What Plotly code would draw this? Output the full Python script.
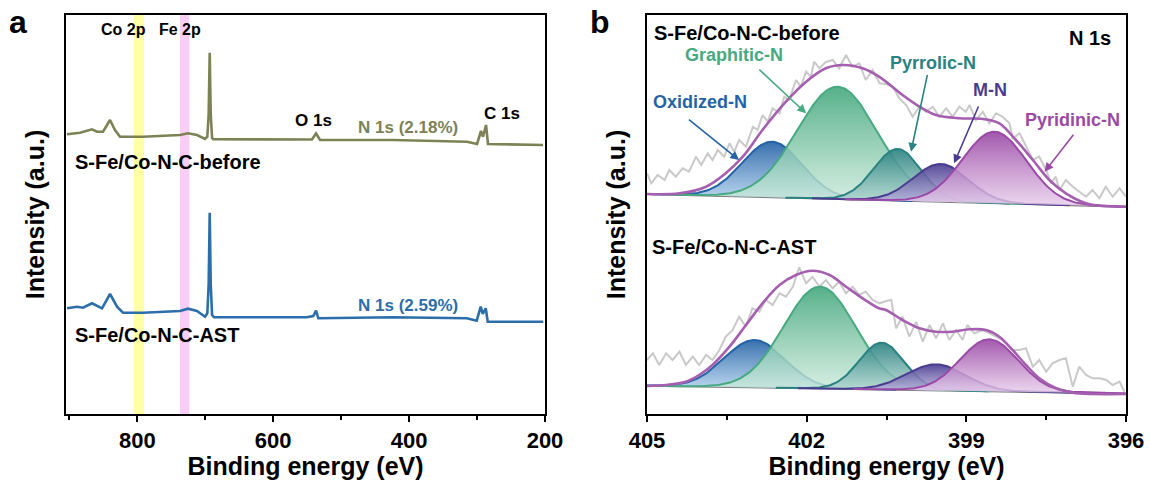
import numpy as np
import plotly.graph_objects as go

FONT = "Arial, Liberation Sans, sans-serif"

# ---------------- panel a : XPS survey spectra ----------------
survey_before_ev = [903.5, 884.4, 866.7, 859.4, 850.5, 840.2, 832.9, 825.5, 791.7, 737.2, 725.4, 712.2,
                    700.4, 697.0, 695.0, 693.5, 692.0, 690.0, 688.2, 545.9, 543.0, 537.0, 531.1, 423.7,
                    314.8, 300.0, 294.2, 291.2, 286.8, 283.9, 202.9]
survey_before_int = [279.7, 281.3, 284.7, 282.3, 282.3, 294.0, 284.0, 277.3, 277.3, 279.0, 280.7, 279.0,
                     275.0, 277.3, 300.0, 361.3, 300.0, 276.0, 274.7, 274.7, 274.5, 280.5, 274.0, 274.0,
                     272.3, 270.0, 283.0, 277.3, 289.0, 270.0, 269.0]

survey_ast_ev = [903.5, 888.8, 880.0, 866.7, 852.0, 840.2, 829.9, 821.1, 791.7, 737.2, 725.4, 712.2,
                 700.4, 697.0, 695.0, 693.5, 692.0, 690.0, 687.2, 550.7, 541.0, 537.0, 533.6, 423.3,
                 315.2, 300.5, 294.6, 291.6, 287.2, 284.3, 202.5]
survey_ast_int = [105.7, 107.3, 106.3, 110.7, 105.7, 120.0, 107.3, 101.3, 101.3, 103.0, 105.3, 103.0,
                  97.3, 100.7, 130.0, 201.3, 130.0, 99.0, 96.7, 96.7, 98.0, 103.3, 95.7, 96.7,
                  95.7, 93.3, 107.3, 100.0, 105.7, 92.3, 92.3]

co2p_band = [804.9, 790.2]
fe2p_band = [737.2, 723.5]
survey_range = [905, 200]

# ---------------- panel b : N 1s high-resolution ----------------
n1s_species = ["Oxidized-N", "Graphitic-N", "Pyrrolic-N", "M-N", "Pyridinic-N"]

before_center = [402.65, 401.42, 400.29, 399.48, 398.47]
before_height = [55.6, 112.4, 51.7, 37.8, 71.5]
before_fwhm = [1.32, 1.77, 1.06, 1.22, 1.41]
before_baseline = [220.0, 207.3]   # at 405 eV, at 396 eV

ast_center = [402.98, 401.75, 400.59, 399.57, 398.57]
ast_height = [47.5, 101.8, 46.8, 26.1, 52.0]
ast_fwhm = [1.34, 1.60, 1.00, 1.30, 1.28]
ast_baseline = [28.3, 20.5]

before_env_ev = [405.0, 404.39, 403.89, 403.52, 403.20, 402.83, 402.39, 402.01, 401.64, 401.32, 400.95,
                 400.64, 400.20, 399.88, 399.57, 399.13, 398.69, 398.38, 398.07, 397.75, 397.44, 397.13,
                 396.75, 396.44, 396.0]
before_env_int = [220.0, 220.7, 227.3, 240.7, 257.3, 284.0, 312.3, 332.3, 345.7, 349.0, 345.7,
                  337.3, 319.0, 307.3, 299.0, 295.7, 295.0, 290.7, 274.0, 254.0, 234.0, 220.7,
                  210.7, 208.0, 207.3]

ast_env_ev = [405.0, 404.64, 404.27, 404.02, 403.77, 403.45, 403.14, 402.83, 402.51, 402.20, 401.89,
              401.57, 401.26, 400.95, 400.64, 400.51, 400.20, 399.88, 399.57, 399.26, 398.94, 398.63,
              398.38, 398.13, 397.88, 397.63, 397.31, 397.0, 396.63, 396.0]
ast_env_int = [28.0, 29.0, 32.3, 39.0, 49.0, 67.3, 89.0, 110.7, 129.0, 139.0, 143.3,
               139.0, 127.3, 115.7, 105.7, 104.0, 94.0, 85.7, 82.3, 82.3, 84.7, 84.0,
               77.3, 64.0, 49.0, 35.7, 25.7, 21.3, 20.0, 20.0]

before_raw_ev = [405.0, 404.92, 404.80, 404.67, 404.58, 404.46, 404.33, 404.21, 404.08, 403.98, 403.86,
                 403.77, 403.67, 403.55, 403.45, 403.36, 403.27, 403.14, 403.01, 402.92, 402.83, 402.73,
                 402.64, 402.51, 402.42, 402.33, 402.20, 402.11, 402.01, 401.92, 401.86, 401.76, 401.64,
                 401.51, 401.39, 401.26, 401.14, 401.01, 400.89, 400.76, 400.63, 400.51, 400.38, 400.26,
                 400.13, 400.01, 399.88, 399.76, 399.63, 399.51, 399.38, 399.26, 399.13, 399.01, 398.94,
                 398.82, 398.69, 398.57, 398.44, 398.32, 398.19, 398.13, 398.00, 397.88, 397.75, 397.63,
                 397.50, 397.41, 397.32, 397.25, 397.13, 397.00, 396.88, 396.75, 396.63, 396.50, 396.38,
                 396.25, 396.12, 396.0]
before_raw_int = [240.7, 230.7, 239.0, 234.0, 244.0, 237.3, 245.7, 242.3, 257.3, 249.0, 260.7,
                  254.0, 264.0, 257.3, 270.7, 262.3, 274.0, 267.3, 287.3, 284.0, 299.0, 292.3,
                  305.7, 300.7, 317.3, 314.0, 334.0, 327.3, 342.3, 337.3, 352.3, 345.7, 352.0,
                  354.0, 345.7, 359.0, 347.3, 350.7, 334.0, 344.0, 330.7, 330.0, 327.3, 315.7,
                  309.0, 297.3, 307.3, 302.3, 307.3, 297.3, 305.7, 297.3, 307.3, 302.3, 309.0,
                  294.0, 302.3, 290.7, 300.7, 297.3, 290.7, 275.7, 280.7, 267.3, 254.0, 257.3,
                  244.0, 230.7, 237.3, 224.0, 234.0, 227.3, 222.3, 217.3, 224.0, 215.7, 227.3,
                  217.3, 225.7, 217.3]

ast_raw_ev = [405.0, 404.89, 404.77, 404.64, 404.52, 404.39, 404.27, 404.14, 404.02, 403.89, 403.77,
              403.64, 403.52, 403.39, 403.27, 403.14, 403.02, 402.89, 402.77, 402.64, 402.51, 402.39,
              402.26, 402.14, 402.01, 401.89, 401.76, 401.64, 401.51, 401.39, 401.26, 401.14, 401.01,
              400.89, 400.76, 400.63, 400.51, 400.41, 400.32, 400.20, 400.07, 399.94, 399.82, 399.69,
              399.57, 399.44, 399.32, 399.19, 399.07, 398.98, 398.85, 398.69, 398.50, 398.32, 398.13,
              398.00, 397.88, 397.75, 397.63, 397.50, 397.38, 397.25, 397.13, 397.00, 396.88, 396.75,
              396.63, 396.50, 396.37, 396.25, 396.12, 396.03]
ast_raw_int = [54.0, 60.7, 49.0, 60.7, 54.0, 62.3, 49.0, 57.3, 49.0, 59.0, 54.0,
               64.0, 77.3, 84.0, 97.3, 87.3, 105.7, 102.3, 114.0, 109.0, 120.7, 117.3,
               127.3, 146.7, 130.7, 137.3, 127.3, 134.0, 125.7, 132.3, 120.7, 127.3, 119.0,
               122.3, 114.0, 110.7, 113.0, 114.0, 85.7, 97.3, 77.3, 92.3, 72.3, 89.0,
               75.7, 90.7, 74.0, 84.0, 74.0, 89.0, 80.7, 84.0, 79.0, 74.0, 64.0,
               64.0, 65.7, 47.3, 54.0, 42.3, 50.7, 54.0, 55.7, 27.3, 47.3, 39.0,
               35.7, 35.7, 34.0, 29.0, 32.3, 22.3]

n1s_range = [405, 396]

# colours
c_before = "#7D8255"
c_ast = "#2C6EAA"
species_dark = ["#2563A6", "#47A97F", "#2A8281", "#4A3C90", "#9A4AA6"]
species_light = ["rgba(170,205,235,0.80)", "rgba(205,235,220,0.80)", "rgba(180,215,210,0.80)",
                 "rgba(190,185,225,0.80)", "rgba(232,205,236,0.80)"]
species_top = ["rgba(37,99,166,0.92)", "rgba(71,169,127,0.92)", "rgba(42,130,129,0.92)",
               "rgba(74,60,144,0.92)", "rgba(154,74,166,0.92)"]
c_env = "#A65FB0"
c_raw = "#C9C9C9"

fig = go.Figure()

# ---- panel a traces ----
fig.add_trace(go.Scatter(x=survey_before_ev, y=survey_before_int, mode="lines",
                         line=dict(color=c_before, width=2.6), xaxis="x", yaxis="y", showlegend=False))
fig.add_trace(go.Scatter(x=survey_ast_ev, y=survey_ast_int, mode="lines",
                         line=dict(color=c_ast, width=2.6), xaxis="x", yaxis="y", showlegend=False))


# ---- panel b traces ----
def add_spectrum(centers, heights, fwhms, baseline, env_ev, env_int, raw_ev, raw_int):
    fig.add_trace(go.Scatter(x=raw_ev, y=raw_int, mode="lines", line=dict(color=c_raw, width=2),
                             xaxis="x2", yaxis="y2", showlegend=False))
    grid = np.linspace(n1s_range[1], n1s_range[0], 451)
    base_all = baseline[1] + (baseline[0] - baseline[1]) * (grid - n1s_range[1]) / (n1s_range[0] - n1s_range[1])
    fig.add_trace(go.Scatter(x=grid, y=base_all, mode="lines", line=dict(color="#7A7A7A", width=2),
                             xaxis="x2", yaxis="y2", showlegend=False))
    for i in range(len(centers)):
        c, h, w = centers[i], heights[i], fwhms[i]
        m = (grid > c - 2.0 * w) & (grid < c + 2.0 * w)
        gx = grid[m]
        base = base_all[m]
        gy = base + h * np.exp(-4 * np.log(2) * (gx - c) ** 2 / w ** 2)
        fig.add_trace(go.Scatter(
            x=np.concatenate([gx, gx[::-1]]), y=np.concatenate([gy, base[::-1]]),
            mode="lines", fill="toself", line=dict(width=0),
            fillgradient=dict(type="vertical",
                              colorscale=[[0, species_light[i]], [1, species_top[i]]]),
            xaxis="x2", yaxis="y2", showlegend=False, hoverinfo="skip"))
        fig.add_trace(go.Scatter(x=gx, y=gy, mode="lines", line=dict(color=species_dark[i], width=2),
                                 xaxis="x2", yaxis="y2", showlegend=False))
    fig.add_trace(go.Scatter(x=env_ev, y=env_int, mode="lines", line=dict(color=c_env, width=2.6, shape="spline"),
                             xaxis="x2", yaxis="y2", showlegend=False))


add_spectrum(before_center, before_height, before_fwhm, before_baseline,
             before_env_ev, before_env_int, before_raw_ev, before_raw_int)
add_spectrum(ast_center, ast_height, ast_fwhm, ast_baseline,
             ast_env_ev, ast_env_int, ast_raw_ev, ast_raw_int)

# ---- shaded bands ----
shapes = [
    dict(type="rect", xref="x", yref="y domain", x0=co2p_band[0], x1=co2p_band[1], y0=0, y1=1,
         fillcolor="#FFFFA6", line=dict(width=0), layer="below"),
    dict(type="rect", xref="x", yref="y domain", x0=fe2p_band[0], x1=fe2p_band[1], y0=0, y1=1,
         fillcolor="#F9CDF5", line=dict(width=0), layer="below"),
]

# ---- axes ----
W, H = 1150, 480
ML, MR, MT, MB = 66, 24, 15, 66
PW = W - ML - MR
PH = H - MT - MB
axis_common = dict(showline=True, linecolor="black", linewidth=1.6, mirror=True, showgrid=False,
                   zeroline=False, automargin=False)
xt = dict(ticks="outside", ticklen=6, tickwidth=1.6, tickcolor="black",
          tickfont=dict(family=FONT, size=22, color="black", weight="bold"),
          title=dict(text="Binding energy (eV)", font=dict(family=FONT, size=25, color="black", weight="bold"),
                     standoff=0))
yt = dict(showticklabels=False, ticks="", range=[0, 399],
          title=dict(text="Intensity (a.u.)", font=dict(family=FONT, size=25, color="black", weight="bold"),
                     standoff=12))

fig.update_layout(
    width=W, height=H, margin=dict(l=ML, r=MR, t=MT, b=MB, autoexpand=False),
    paper_bgcolor="white", plot_bgcolor="white",
    xaxis=dict(domain=[0, 479 / PW], range=survey_range, tickmode="linear", tick0=200, dtick=200,
               minor=dict(ticks="outside", ticklen=4, tickwidth=1.6, tickcolor="black", tick0=0, dtick=100),
               anchor="y", **axis_common, **xt),
    yaxis=dict(domain=[0, 1], anchor="x", **axis_common, **yt),
    xaxis2=dict(domain=[(647 - ML) / PW, 1], range=n1s_range, tickmode="linear", tick0=396, dtick=3,
                minor=dict(ticks="outside", ticklen=4, tickwidth=1.6, tickcolor="black", tick0=396, dtick=1.5),
                anchor="y2", **axis_common, **xt),
    yaxis2=dict(domain=[0, 1], anchor="x2", **axis_common, **yt),
    shapes=shapes,
)


def txt(x, y, text, size, color="black", xanchor="center", xref="x", yref="y"):
    return dict(x=x, y=y, xref=xref, yref=yref, text=text, showarrow=False, xanchor=xanchor, yanchor="middle",
                font=dict(family=FONT, size=size, color=color, weight="bold"))


def arrow(x, y, ax, ay, color):
    return dict(x=x, y=y, xref="x2", yref="y2", ax=ax, ay=ay, axref="pixel", ayref="pixel", text="",
                showarrow=True, arrowhead=2, arrowsize=1.1, arrowwidth=1.6, arrowcolor=color,
                standoff=0, startstandoff=0)


annotations = [
    txt((18 - ML) / PW, (H - MB - 22) / PH, "a", 32, xref="paper", yref="paper"),
    txt((600 - ML) / PW, (H - MB - 22) / PH, "b", 32, xref="paper", yref="paper"),
    # panel a
    txt(820.4, 385, "Co 2p", 16),
    txt(737.9, 385, "Fe 2p", 16),
    txt(540, 294, "O 1s", 17),
    txt(401.6, 287, "N 1s (2.18%)", 17, color=c_before),
    txt(263.3, 301, "C 1s", 17),
    txt(401.6, 109, "N 1s (2.59%)", 17, color=c_ast),
    txt(894.7, 252, "S-Fe/Co-N-C-before", 20, xanchor="left"),
    txt(894.7, 79, "S-Fe/Co-N-C-AST", 20, xanchor="left"),
    # panel b
    dict(txt(404.91, 381, "S-Fe/Co-N-C-before", 20, xanchor="left"), xref="x2", yref="y2"),
    dict(txt(396.24, 376, "N 1s", 20, xanchor="right"), xref="x2", yref="y2"),
    dict(txt(404.94, 167.3, "S-Fe/Co-N-C-AST", 20, xanchor="left"), xref="x2", yref="y2"),
    dict(txt(403.36, 359, n1s_species[1], 18, color=species_dark[1]), xref="x2", yref="y2"),
    dict(txt(404.0, 312.3, n1s_species[0], 18, color=species_dark[0]), xref="x2", yref="y2"),
    dict(txt(399.63, 350.7, n1s_species[2], 18, color=species_dark[2]), xref="x2", yref="y2"),
    dict(txt(398.56, 324, n1s_species[3], 18, color=species_dark[3]), xref="x2", yref="y2"),
    dict(txt(397.0, 294, n1s_species[4], 18, color=species_dark[4]), xref="x2", yref="y2"),
    arrow(403.27, 254, -51.6, -41.7, species_dark[0]),
    arrow(402.01, 300.7, -48.3, -45, species_dark[1]),
    arrow(400.04, 262.3, 16.7, -78.4, species_dark[2]),
    arrow(399.23, 250.7, 25, -58.3, species_dark[3]),
    arrow(397.53, 242.3, 30, -38.4, species_dark[4]),
]
fig.update_layout(annotations=annotations)

fig.write_html("out.html", config={"displayModeBar": False},
               post_script="document.body.style.margin='0px';document.body.style.overflow='hidden';")
